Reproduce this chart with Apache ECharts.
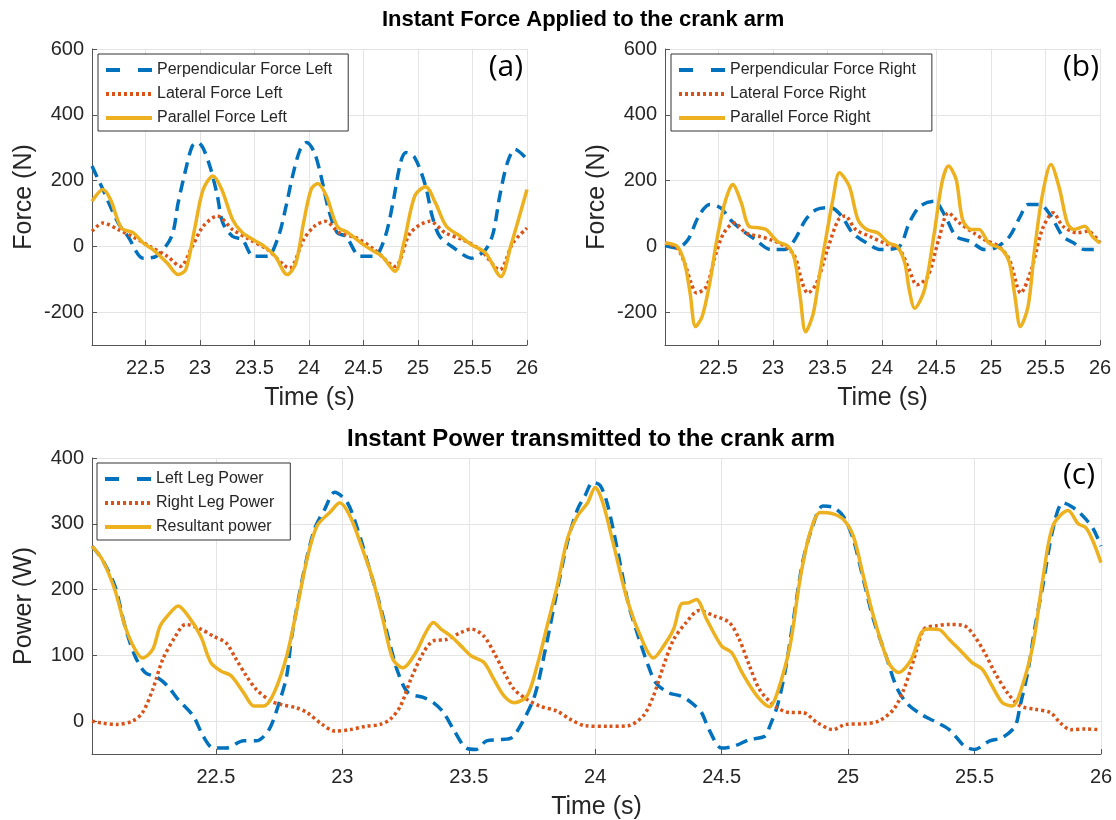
<!DOCTYPE html>
<html>
<head>
<meta charset="utf-8">
<title>Instant Force / Power on the crank arm</title>
<script src="https://cdn.jsdelivr.net/npm/echarts@6/dist/echarts.min.js"></script>
<style>
  html, body { margin: 0; padding: 0; background: #fff; }
  #main { width: 1116px; height: 820px; }
</style>
</head>
<body>
<div id="main"></div>
<script>
// ---- data: [time (s), value] ----
var perpLeft = [[22.01,244],[22.11,173],[22.25,71],[22.34,30],[22.48,-36],[22.6,-30],[22.74,30],[22.8,132],[22.87,234],[22.93,305],[22.98,316],[23.03,298],[23.1,234],[23.16,153],[23.21,71],[23.3,30],[23.39,20],[23.49,-30],[23.62,-30],[23.72,30],[23.79,122],[23.85,214],[23.92,295],[23.98,316],[24.05,285],[24.11,214],[24.18,112],[24.26,41],[24.34,30],[24.47,-30],[24.6,-30],[24.7,30],[24.77,132],[24.84,254],[24.89,285],[24.97,270],[25.07,183],[25.13,92],[25.2,30],[25.33,-5],[25.49,-36],[25.62,-10],[25.69,41],[25.75,153],[25.82,254],[25.89,295],[26.0,265]];
var latLeft = [[22.01,46],[22.11,71],[22.25,51],[22.38,30],[22.54,0],[22.7,-30],[22.82,-61],[22.93,0],[23.03,61],[23.16,92],[23.3,51],[23.46,20],[23.62,-10],[23.82,-66],[23.95,20],[24.05,61],[24.15,76],[24.28,41],[24.44,25],[24.6,-10],[24.79,-61],[24.93,41],[25.11,76],[25.25,41],[25.41,20],[25.57,-10],[25.75,-71],[25.87,10],[26.0,56]];
var parLeft = [[22.01,137],[22.11,173],[22.18,142],[22.28,56],[22.39,41],[22.48,10],[22.57,-10],[22.7,-51],[22.8,-86],[22.87,-71],[22.95,51],[23.03,173],[23.12,214],[23.2,173],[23.3,81],[23.39,41],[23.49,20],[23.59,0],[23.69,-30],[23.8,-86],[23.88,-51],[23.95,71],[24.02,173],[24.08,191],[24.16,153],[24.26,61],[24.36,41],[24.48,10],[24.57,-10],[24.67,-30],[24.79,-76],[24.87,10],[24.97,153],[25.07,181],[25.16,132],[25.26,61],[25.39,30],[25.49,5],[25.62,-20],[25.76,-92],[25.85,0],[26.0,173]];

var perpRight = [[22.01,2],[22.12,-5],[22.22,20],[22.32,92],[22.42,127],[22.52,117],[22.61,81],[22.71,51],[22.84,20],[22.98,-10],[23.11,-10],[23.2,20],[23.3,81],[23.4,112],[23.53,118],[23.63,92],[23.73,41],[23.86,10],[23.99,-10],[24.16,0],[24.25,71],[24.35,122],[24.48,137],[24.58,92],[24.68,30],[24.81,15],[24.94,-10],[25.04,-5],[25.17,30],[25.27,92],[25.34,127],[25.45,127],[25.55,92],[25.66,30],[25.76,10],[25.86,-10],[25.96,-10]];
var latRight = [[22.01,10],[22.12,-5],[22.19,-51],[22.25,-112],[22.3,-142],[22.39,-122],[22.47,-30],[22.55,41],[22.65,71],[22.75,41],[22.88,30],[22.98,20],[23.11,0],[23.2,-30],[23.27,-112],[23.32,-142],[23.4,-112],[23.5,-10],[23.6,81],[23.66,92],[23.76,51],[23.89,30],[24.02,10],[24.16,-10],[24.25,-71],[24.32,-117],[24.42,-92],[24.52,20],[24.61,102],[24.71,71],[24.84,41],[24.94,20],[25.07,0],[25.17,-41],[25.24,-122],[25.27,-142],[25.37,-71],[25.47,51],[25.57,102],[25.66,61],[25.79,41],[25.89,46],[26.0,10]];
var parRight = [[22.01,10],[22.12,0],[22.19,-51],[22.24,-142],[22.29,-244],[22.35,-214],[22.42,-112],[22.48,10],[22.55,122],[22.6,173],[22.63,188],[22.71,132],[22.78,61],[22.88,56],[22.94,51],[23.04,15],[23.14,0],[23.2,-41],[23.25,-153],[23.3,-260],[23.37,-204],[23.43,-81],[23.5,51],[23.55,142],[23.61,224],[23.7,183],[23.78,81],[23.86,51],[23.96,41],[24.06,10],[24.14,0],[24.21,-51],[24.25,-132],[24.3,-188],[24.39,-132],[24.48,41],[24.55,193],[24.61,244],[24.68,204],[24.74,81],[24.82,51],[24.89,51],[24.98,10],[25.1,-10],[25.17,-51],[25.22,-153],[25.27,-244],[25.34,-183],[25.4,-10],[25.47,153],[25.55,249],[25.63,173],[25.7,71],[25.76,51],[25.86,61],[25.93,30],[26.0,10]];

var leftPower = [[22.01,266],[22.05,246],[22.1,206],[22.14,145],[22.18,99],[22.22,74],[22.27,66],[22.31,53],[22.35,33],[22.41,8],[22.45,-23],[22.49,-41],[22.54,-41],[22.61,-30],[22.66,-30],[22.71,-13],[22.75,28],[22.78,69],[22.8,129],[22.85,231],[22.89,292],[22.93,322],[22.97,348],[23.02,332],[23.06,292],[23.1,241],[23.15,175],[23.19,114],[23.22,74],[23.26,43],[23.32,36],[23.36,28],[23.4,13],[23.44,-13],[23.49,-41],[23.53,-43],[23.57,-30],[23.63,-28],[23.67,-25],[23.71,-3],[23.76,38],[23.8,104],[23.84,180],[23.89,272],[23.93,322],[23.96,343],[23.99,363],[24.02,358],[24.05,327],[24.09,256],[24.13,180],[24.17,129],[24.21,84],[24.24,58],[24.29,43],[24.34,38],[24.38,28],[24.42,13],[24.45,-13],[24.5,-41],[24.55,-38],[24.61,-28],[24.67,-23],[24.69,-8],[24.72,23],[24.75,74],[24.78,145],[24.82,241],[24.86,297],[24.9,327],[24.94,325],[24.98,312],[25.02,277],[25.06,216],[25.1,155],[25.15,99],[25.19,53],[25.23,28],[25.29,10],[25.34,0],[25.4,-13],[25.46,-38],[25.5,-43],[25.56,-30],[25.61,-25],[25.66,-8],[25.68,23],[25.71,74],[25.74,145],[25.77,206],[25.81,292],[25.85,332],[25.9,322],[25.94,307],[25.97,292],[26.0,266]];
var rightPower = [[22.01,0],[22.05,-3],[22.11,-5],[22.17,0],[22.21,13],[22.25,48],[22.29,94],[22.34,129],[22.38,147],[22.44,140],[22.49,129],[22.54,119],[22.58,94],[22.62,69],[22.66,48],[22.72,30],[22.76,25],[22.82,20],[22.86,13],[22.92,-5],[22.97,-15],[23.03,-13],[23.09,-8],[23.15,-5],[23.19,3],[23.23,23],[23.27,63],[23.32,104],[23.36,122],[23.41,124],[23.47,135],[23.51,140],[23.56,129],[23.6,104],[23.64,74],[23.68,48],[23.73,33],[23.78,23],[23.85,15],[23.9,3],[23.96,-7],[24.05,-8],[24.13,-7],[24.19,8],[24.23,38],[24.27,84],[24.31,124],[24.36,150],[24.41,168],[24.47,160],[24.53,150],[24.57,124],[24.61,84],[24.65,48],[24.71,23],[24.77,13],[24.82,13],[24.88,-3],[24.94,-13],[24.99,-5],[25.06,-4],[25.12,0],[25.18,18],[25.22,48],[25.26,94],[25.3,140],[25.35,145],[25.4,147],[25.46,145],[25.5,129],[25.54,104],[25.58,74],[25.63,43],[25.68,23],[25.74,18],[25.8,13],[25.84,-3],[25.88,-13],[25.94,-12],[25.99,-13]];
var resultPower = [[22.01,266],[22.05,246],[22.1,200],[22.14,145],[22.18,109],[22.21,96],[22.25,109],[22.28,145],[22.32,165],[22.35,175],[22.39,160],[22.44,129],[22.48,89],[22.52,76],[22.56,69],[22.61,43],[22.65,23],[22.69,23],[22.73,43],[22.78,99],[22.82,170],[22.86,246],[22.9,297],[22.95,317],[22.99,332],[23.03,312],[23.07,272],[23.12,216],[23.16,155],[23.2,94],[23.24,81],[23.29,104],[23.33,135],[23.36,150],[23.39,140],[23.43,129],[23.47,114],[23.51,99],[23.56,89],[23.6,63],[23.64,38],[23.68,28],[23.73,38],[23.77,84],[23.81,145],[23.85,206],[23.89,277],[23.93,312],[23.97,332],[24.0,355],[24.03,332],[24.07,272],[24.13,180],[24.19,119],[24.23,96],[24.27,114],[24.31,140],[24.34,178],[24.37,180],[24.4,185],[24.44,155],[24.5,114],[24.54,104],[24.58,74],[24.64,38],[24.69,22],[24.72,43],[24.77,114],[24.81,216],[24.85,287],[24.89,317],[24.94,315],[24.98,307],[25.02,282],[25.06,221],[25.1,160],[25.16,89],[25.2,74],[25.25,94],[25.29,135],[25.32,140],[25.36,139],[25.4,124],[25.44,109],[25.49,89],[25.53,79],[25.57,53],[25.61,28],[25.65,23],[25.68,43],[25.73,114],[25.77,216],[25.81,297],[25.87,320],[25.91,300],[25.94,294],[25.97,272],[26.0,241]];

// tick labels
var timeTicks = [22.5, 23, 23.5, 24, 24.5, 25, 25.5, 26];
var forceTicks = [-200, 0, 200, 400, 600];
var powerTicks = [0, 100, 200, 300, 400];

var BLUE = '#0072BD', RED = '#D95319', YELLOW = '#EDB120';
var FONT = '"Liberation Sans", Arial, Helvetica, sans-serif';

function xAxisFor(gi) {
	return {
		type: 'value', gridIndex: gi, min: 22.01, max: 26,
		name: 'Time (s)', nameLocation: 'middle', nameGap: 41,
		nameTextStyle: { fontSize: 25, color: '#262626', fontFamily: FONT },
		axisLine: { show: true, onZero: false, lineStyle: { color: '#555', width: 1 } },
		axisTick: { show: true, inside: true, length: 5, customValues: timeTicks, lineStyle: { color: '#555' } },
		axisLabel: { customValues: timeTicks, fontSize: 20, color: '#262626', fontFamily: FONT, margin: 13 },
		splitLine: { show: true, lineStyle: { color: '#e4e4e4', width: 1 } }
	};
}

function yAxisFor(gi, name, min, max, ticks) {
	return {
		type: 'value', gridIndex: gi, min: min, max: max,
		name: name, nameLocation: 'middle', nameGap: 55,
		nameTextStyle: { fontSize: 25, color: '#262626', fontFamily: FONT },
		axisLine: { show: true, onZero: false, lineStyle: { color: '#555', width: 1 } },
		axisTick: { show: true, inside: true, length: 5, customValues: ticks, lineStyle: { color: '#555' } },
		axisLabel: { customValues: ticks, fontSize: 20, color: '#262626', fontFamily: FONT, margin: 8 },
		splitLine: { show: true, lineStyle: { color: '#e4e4e4', width: 1 } }
	};
}

function lineSeries(name, data, gi, color, type, width) {
	return {
		name: name, type: 'line', xAxisIndex: gi, yAxisIndex: gi,
		data: data, smooth: 0.3, symbol: 'none', z: 3,
		lineStyle: { color: color, type: type, width: width, cap: 'butt' },
		itemStyle: { color: color }
	};
}

// legend rows: dashed sample drawn as two long dashes, like the original
function legendFor(names, left, top) {
	return {
		data: [
			{ name: names[0], lineStyle: { type: [14, 18], width: 4 } },
			{ name: names[1], lineStyle: { type: [3, 3], width: 4 } },
			{ name: names[2], lineStyle: { width: 4 } }
		],
		orient: 'vertical', left: left, top: top,
		itemWidth: 46, itemHeight: 12, itemGap: 6,
		padding: [7, 16, 4, 6],
		itemStyle: { opacity: 0 },
		backgroundColor: '#fff', borderColor: '#333', borderWidth: 1, borderRadius: 0,
		textStyle: { fontSize: 16, color: '#262626', fontFamily: FONT, lineHeight: 18 },
		selectedMode: false
	};
}

var DASH = [12, 7], DOT = [3, 3];

var myChart = echarts.init(document.getElementById('main'), null, { renderer: 'canvas' });

myChart.setOption({
	animation: false,
	backgroundColor: '#fff',
	title: [
		{ text: 'Instant Force Applied to the crank arm', left: 382, top: 9, padding: 0,
		  textStyle: { fontSize: 22, fontWeight: 'bold', color: '#000', fontFamily: FONT } },
		{ text: 'Instant Power transmitted to the crank arm', left: 347, top: 427, padding: 0,
		  textStyle: { fontSize: 24, fontWeight: 'bold', color: '#000', fontFamily: FONT } },
		{ text: '(a)', right: 593, top: 52, padding: 0,
		  textStyle: { fontSize: 30, fontWeight: 'normal', color: '#000', fontFamily: '"Open Sans", sans-serif' } },
		{ text: '(b)', right: 17, top: 52, padding: 0,
		  textStyle: { fontSize: 30, fontWeight: 'normal', color: '#000', fontFamily: '"Open Sans", sans-serif' } },
		{ text: '(c)', right: 21, top: 460, padding: 0,
		  textStyle: { fontSize: 30, fontWeight: 'normal', color: '#000', fontFamily: '"Open Sans", sans-serif' } }
	],
	legend: [
		legendFor(['Perpendicular Force Left', 'Lateral Force Left', 'Parallel Force Left'], 98, 54),
		legendFor(['Perpendicular Force Right', 'Lateral Force Right', 'Parallel Force Right'], 671, 54),
		legendFor(['Left Leg Power', 'Right Leg Power', 'Resultant power'], 97, 463)
	],
	grid: [
		{ left: 92, top: 49, width: 435, height: 296, outerBoundsMode: 'none' },
		{ left: 665, top: 49, width: 435, height: 296, outerBoundsMode: 'none' },
		{ left: 92, top: 458, width: 1009, height: 296, outerBoundsMode: 'none' }
	],
	xAxis: [xAxisFor(0), xAxisFor(1), xAxisFor(2)],
	yAxis: [
		yAxisFor(0, 'Force (N)', -300, 600, forceTicks),
		yAxisFor(1, 'Force (N)', -300, 600, forceTicks),
		yAxisFor(2, 'Power (W)', -50, 400, powerTicks)
	],
	series: [
		lineSeries('Perpendicular Force Left', perpLeft, 0, BLUE, DASH, 3.5),
		lineSeries('Lateral Force Left', latLeft, 0, RED, DOT, 3.5),
		lineSeries('Parallel Force Left', parLeft, 0, YELLOW, 'solid', 3.5),
		lineSeries('Perpendicular Force Right', perpRight, 1, BLUE, DASH, 3.5),
		lineSeries('Lateral Force Right', latRight, 1, RED, DOT, 3.5),
		lineSeries('Parallel Force Right', parRight, 1, YELLOW, 'solid', 3.5),
		lineSeries('Left Leg Power', leftPower, 2, BLUE, DASH, 3.5),
		lineSeries('Right Leg Power', rightPower, 2, RED, DOT, 3.5),
		lineSeries('Resultant power', resultPower, 2, YELLOW, 'solid', 3.5)
	]
});
</script>
</body>
</html>
